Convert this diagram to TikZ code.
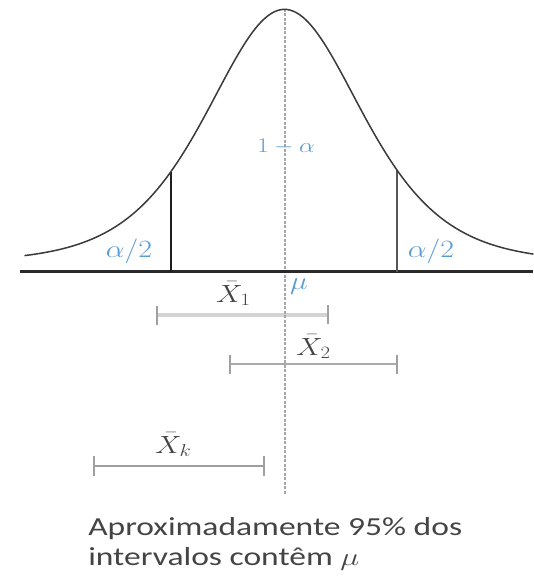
\documentclass[tikz,border=0pt]{standalone}
\usepackage{fontspec}
\setmainfont{Carlito}
\definecolor{curvec}{HTML}{3A3A3A}
\definecolor{axisc}{HTML}{2A2A2A}
\definecolor{vlinel}{HTML}{1E1E1E}
\definecolor{vliner}{HTML}{575757}
\definecolor{dashc}{HTML}{A6A6A6}
\definecolor{intA}{HTML}{D3D3D3}
\definecolor{intB}{HTML}{A9A9A9}
\definecolor{intC}{HTML}{9E9E9E}
\definecolor{tickc}{HTML}{A0A0A0}
\definecolor{lblue}{HTML}{5B9BD5}
\definecolor{textc}{HTML}{444444}
\begin{document}
\begin{tikzpicture}[x=1pt,y=-1pt,
  declare function={gy(\t)=262-252.7/(cosh(\t/103))^2;},
  curve/.style={draw=curvec, line width=1.5pt},
  axisline/.style={draw=axisc, line width=3pt},
  cutline/.style={line width=2.5pt},
  centerline/.style={draw=dashc, line width=2pt, dash pattern=on 3pt off 1.5pt},
  ivline/.style={line width=2.5pt},
  ivtick/.style={draw=tickc, line width=2pt},
  mlbl/.style={inner sep=0pt, font=\fontsize{24}{28}\selectfont, xscale=1.2},
  bluelbl/.style={mlbl, text=lblue},
  xlbl/.style={mlbl, text=textc, anchor=base west},
  captxt/.style={inner sep=0pt, anchor=base west, text=textc,
                 font=\fontsize{26}{30}\selectfont, xscale=1.29}
]
\useasboundingbox (0,0) rectangle (533,586);

% named points
\coordinate (axL) at (20,271.5);
\coordinate (axR) at (533,271.5);
\coordinate (vLb) at (171,271.5);
\coordinate (vLt) at (171,{gy(-113.5)});
\coordinate (vRb) at (397,271.5);
\coordinate (vRt) at (397,{gy(112.5)});
\coordinate (cTop) at (284.5,9);
\coordinate (cBot) at (284.5,495);

\coordinate (iAa) at (157,315);
\coordinate (iAb) at (328,315);
\coordinate (iBa) at (230,364);
\coordinate (iBb) at (397,364);
\coordinate (iCa) at (94,466);
\coordinate (iCb) at (264,466);

% intervals
\draw[ivline, draw=intA, line width=4pt] (iAa) -- (iAb);
\draw[ivtick] (iAa) ++(0,-9) -- ++(0,19);
\draw[ivtick] (iAb) ++(0,-10) -- ++(0,19);
\draw[ivline, draw=intB] (iBa) -- (iBb);
\draw[ivtick] (iBa) ++(0,-9) -- ++(0,19);
\draw[ivtick] (iBb) ++(0,-9) -- ++(0,19);
\draw[ivline, draw=intC] (iCa) -- (iCb);
\draw[ivtick] (iCa) ++(0,-10) -- ++(0,20);
\draw[ivtick] (iCb) ++(0,-10) -- ++(0,20);

% center dashed line
\draw[centerline] (cTop) -- (cBot);

% axis
\draw[axisline] (axL) -- (axR);

% cut lines
\draw[cutline, draw=vlinel] (vLb) -- (vLt);
\draw[cutline, draw=vliner] (vRb) -- (vRt);

% density curve
\draw[curve] plot[domain=-260:249, samples=160, smooth] ({284.5+\x},{gy(\x)});

% labels
\node[bluelbl, font=\fontsize{22}{26}\selectfont] (oneminus) at (286,147) {$1-\alpha$};
\node[bluelbl] (aleft) at (129,251) {$\alpha/2$};
\node[bluelbl] (aright) at (431,251) {$\alpha/2$};
\node[bluelbl] (mu) at (299,287) {$\mu$};
\node[xlbl] (xbar1) at (216,302) {$\bar{X}_1$};
\node[xlbl] (xbar2) at (296,355) {$\bar{X}_2$};
\node[xlbl] (xbark) at (155,453) {$\bar{X}_k$};

% caption
\node[captxt] (cap1) at (88,535) {Aproximadamente 95\% dos};
\node[captxt] (cap2) at (88,565) {intervalos contêm $\mu$};
\end{tikzpicture}
\end{document}
